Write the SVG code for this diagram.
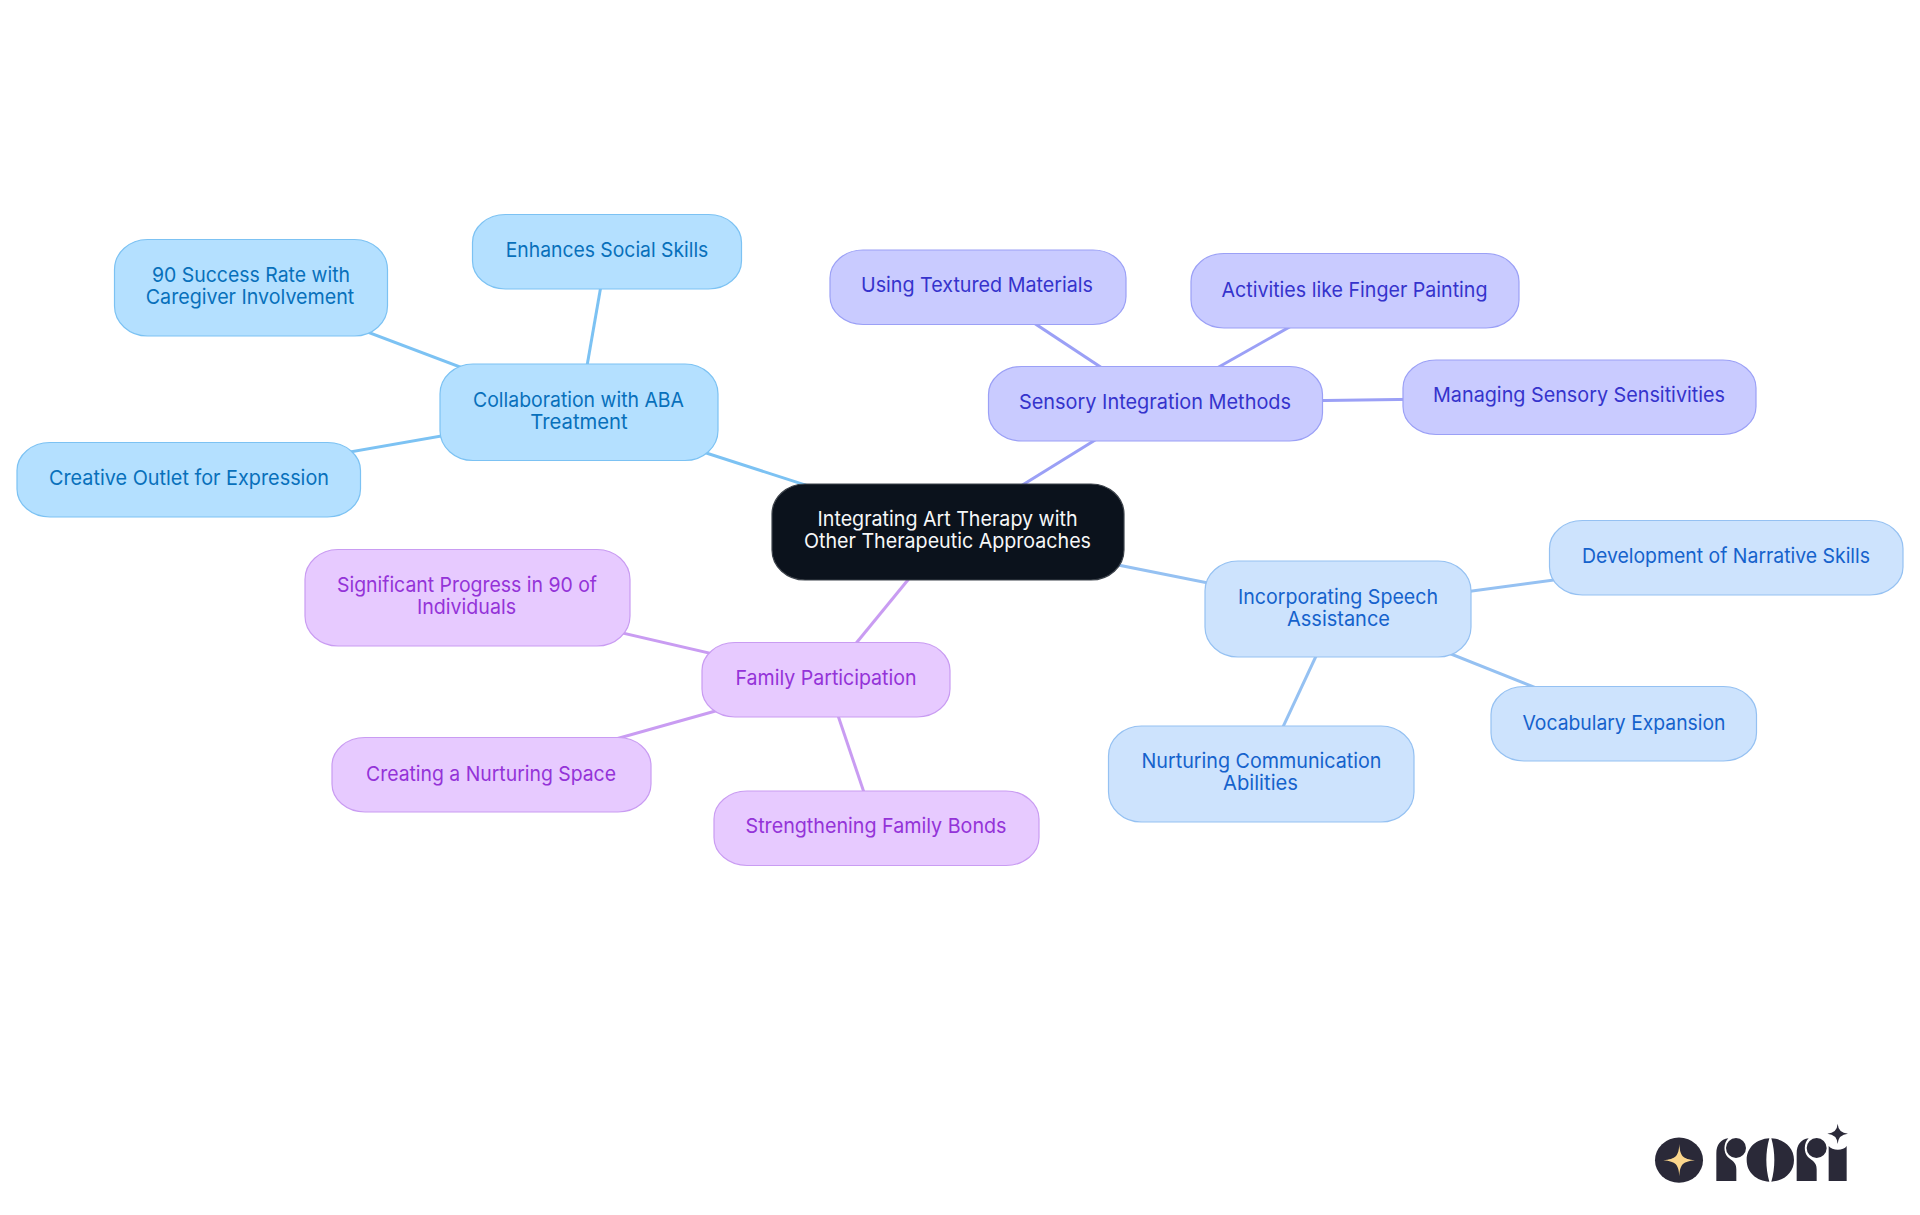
<svg xmlns="http://www.w3.org/2000/svg" width="1920" height="1215" viewBox="0 0 1920 1215">
<style>
text{font-family:"Inter","Liberation Sans",sans-serif;font-size:20.4px;font-weight:400;text-anchor:middle}
.n rect{stroke-width:1.2}
.e{fill:none;stroke-width:3;stroke-linecap:butt}
.c0 rect{fill:#0b121c;stroke:#3d434b}.c0 text{fill:#f6f7f8}
.c1 rect{fill:#b4e0ff;stroke:#7cc2f3}.c1 text{fill:#0870bb}
.c2 rect{fill:#c9cbff;stroke:#9ba0f6}.c2 text{fill:#3533cc}
.c3 rect{fill:#cde3fd;stroke:#95c1f2}.c3 text{fill:#1562cc}
.c4 rect{fill:#e7caff;stroke:#c99cf2}.c4 text{fill:#9433d8}
.l1{stroke:#7cc2f3}.l2{stroke:#9ba0f6}.l3{stroke:#95c1f2}.l4{stroke:#c99cf2}
</style>
<rect x="0" y="0" width="1920" height="1215" fill="#ffffff"/>
<g id="connectors">
<line class="e l1" x1="948" y1="531" x2="579" y2="412"/>
<line class="e l1" x1="579" y1="412" x2="607" y2="251"/>
<line class="e l1" x1="579" y1="412" x2="251" y2="288"/>
<line class="e l1" x1="579" y1="412" x2="189" y2="480"/>
<line class="e l2" x1="948" y1="531" x2="1155" y2="403"/>
<line class="e l2" x1="1155" y1="403" x2="978" y2="286"/>
<line class="e l2" x1="1155" y1="403" x2="1355" y2="290"/>
<line class="e l2" x1="1155" y1="403" x2="1579" y2="397"/>
<line class="e l3" x1="948" y1="531" x2="1338" y2="609"/>
<line class="e l3" x1="1338" y1="609" x2="1726" y2="557"/>
<line class="e l3" x1="1338" y1="609" x2="1624" y2="723"/>
<line class="e l3" x1="1338" y1="609" x2="1261" y2="774"/>
<line class="e l4" x1="948" y1="531" x2="826" y2="680"/>
<line class="e l4" x1="826" y1="680" x2="467" y2="597"/>
<line class="e l4" x1="826" y1="680" x2="491" y2="774"/>
<line class="e l4" x1="826" y1="680" x2="876" y2="828"/>
</g>
<g id="n0" class="n c0"><rect x="772" y="484" width="352" height="96" rx="33" ry="30"/><text x="947.5" y="526" textLength="260" lengthAdjust="spacingAndGlyphs">Integrating Art Therapy with</text><text x="947.5" y="548" textLength="287" lengthAdjust="spacingAndGlyphs">Other Therapeutic Approaches</text></g>
<g id="n1" class="n c1"><rect x="440" y="364" width="278" height="96.500" rx="33" ry="30"/><text x="578.500" y="407" textLength="211" lengthAdjust="spacingAndGlyphs">Collaboration with ABA</text><text x="579" y="429" textLength="97.500" lengthAdjust="spacingAndGlyphs">Treatment</text></g>
<g id="n1a" class="n c1"><rect x="472.500" y="214.500" width="269" height="74.500" rx="33" ry="28"/><text x="607" y="257" textLength="202.600" lengthAdjust="spacingAndGlyphs">Enhances Social Skills</text></g>
<g id="n1b" class="n c1"><rect x="114.500" y="239.500" width="273" height="96.500" rx="33" ry="30"/><text x="251" y="282" textLength="198" lengthAdjust="spacingAndGlyphs">90 Success Rate with</text><text x="250" y="304" textLength="208.500" lengthAdjust="spacingAndGlyphs">Caregiver Involvement</text></g>
<g id="n1c" class="n c1"><rect x="17" y="442.500" width="343.500" height="74.500" rx="33" ry="28"/><text x="189" y="485" textLength="280" lengthAdjust="spacingAndGlyphs">Creative Outlet for Expression</text></g>
<g id="n2" class="n c2"><rect x="988.500" y="366.500" width="334" height="74.500" rx="33" ry="28"/><text x="1155" y="409" textLength="272" lengthAdjust="spacingAndGlyphs">Sensory Integration Methods</text></g>
<g id="n2a" class="n c2"><rect x="830" y="250" width="296" height="74.500" rx="33" ry="28"/><text x="977" y="292" textLength="232" lengthAdjust="spacingAndGlyphs">Using Textured Materials</text></g>
<g id="n2b" class="n c2"><rect x="1191" y="253.500" width="328" height="74.500" rx="33" ry="28"/><text x="1354.500" y="296.500" textLength="266" lengthAdjust="spacingAndGlyphs">Activities like Finger Painting</text></g>
<g id="n2c" class="n c2"><rect x="1403" y="360" width="353" height="74.500" rx="33" ry="28"/><text x="1579" y="402" textLength="292" lengthAdjust="spacingAndGlyphs">Managing Sensory Sensitivities</text></g>
<g id="n3" class="n c3"><rect x="1205" y="561" width="266" height="96" rx="33" ry="30"/><text x="1338" y="603.500" textLength="200" lengthAdjust="spacingAndGlyphs">Incorporating Speech</text><text x="1338.500" y="625.500" textLength="103" lengthAdjust="spacingAndGlyphs">Assistance</text></g>
<g id="n3a" class="n c3"><rect x="1549.500" y="520.500" width="353.500" height="74.500" rx="33" ry="28"/><text x="1726" y="563" textLength="288" lengthAdjust="spacingAndGlyphs">Development of Narrative Skills</text></g>
<g id="n3b" class="n c3"><rect x="1491" y="686.500" width="265.500" height="74.500" rx="33" ry="28"/><text x="1624" y="729.500" textLength="203" lengthAdjust="spacingAndGlyphs">Vocabulary Expansion</text></g>
<g id="n3c" class="n c3"><rect x="1108.500" y="726" width="305.500" height="96" rx="33" ry="30"/><text x="1261.500" y="768" textLength="240" lengthAdjust="spacingAndGlyphs">Nurturing Communication</text><text x="1260.500" y="790" textLength="75" lengthAdjust="spacingAndGlyphs">Abilities</text></g>
<g id="n4" class="n c4"><rect x="702" y="642.500" width="248" height="74.500" rx="33" ry="28"/><text x="826" y="685" textLength="181" lengthAdjust="spacingAndGlyphs">Family Participation</text></g>
<g id="n4a" class="n c4"><rect x="305" y="549.500" width="325" height="96.500" rx="33" ry="30"/><text x="467" y="592" textLength="260" lengthAdjust="spacingAndGlyphs">Significant Progress in 90 of</text><text x="466.500" y="614" textLength="99" lengthAdjust="spacingAndGlyphs">Individuals</text></g>
<g id="n4b" class="n c4"><rect x="332" y="737.500" width="319" height="74.500" rx="33" ry="28"/><text x="491" y="780.500" textLength="250" lengthAdjust="spacingAndGlyphs">Creating a Nurturing Space</text></g>
<g id="n4c" class="n c4"><rect x="714" y="791" width="325" height="74.500" rx="33" ry="28"/><text x="876" y="833" textLength="261" lengthAdjust="spacingAndGlyphs">Strengthening Family Bonds</text></g>
<g id="logo" transform="translate(1600,1090) scale(0.33333)" fill="#2a2938">
<ellipse cx="237" cy="210.500" rx="72" ry="68"/>
<path d="M238 162C240 198 248 207 285 211C248 215 240 224 238 259C236 224 228 215 190 211C228 207 236 198 238 162Z" fill="#fbd68c"/>
<path d="M713 101Q715 129 744 131Q715 133 713 162Q711 133 682 131Q711 129 713 101Z"/>
<path d="M349 273V190C349 165 362 148 385 145C370 160 370 187 383 201C395 212 409 216 409 238V273Z"/>
<circle cx="408" cy="174" r="30"/>
<path d="M508 145C470 147 440 172 440 210C440 248 470 273 508 275C502 255 499 232 499 210C499 188 502 166 508 145Z"/>
<path d="M514 145C552 147 582 172 582 210C582 248 552 273 514 275C520 255 523 232 523 210C523 188 520 166 514 145Z"/>
<path d="M590 273V190C590 165 603 148 626 145C611 160 611 187 624 201C636 212 650 216 650 238V273Z"/>
<circle cx="650" cy="174" r="30"/>
<path d="M686 273V168C695 182 730 184 740 168V273Z"/>
</g>
</svg>
